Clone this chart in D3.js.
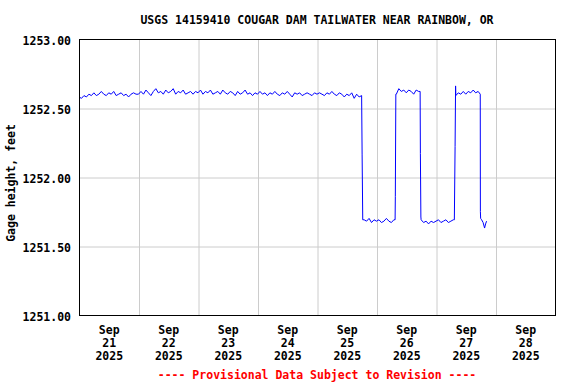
<!DOCTYPE html>
<html>
<head>
<meta charset="utf-8">
<script src="https://cdn.jsdelivr.net/npm/d3@7"></script>
<style>
html,body{margin:0;padding:0;background:#fff;}
svg{display:block;}
text{font-family:"DejaVu Sans Mono","Liberation Mono",monospace;font-weight:bold;}
</style>
</head>
<body>
<svg id="chart" width="576" height="384"></svg>
<script>
const title = "USGS 14159410 COUGAR DAM TAILWATER NEAR RAINBOW, OR";
const yLabel = "Gage height, feet";
const footer = "---- Provisional Data Subject to Revision ----";
const dayLabels = ["21","22","23","24","25","26","27","28"];
const monthLabel = "Sep";
const yearLabel = "2025";
const yTicks = [1251.0, 1251.5, 1252.0, 1252.5, 1253.0];
const yDomain = [1251, 1253];

// hourly readings starting Sep 21 2025 00:00 (hour offset = index)
const gageSep21 = [1252.58,1252.57,1252.59,1252.58,1252.60,1252.59,1252.61,1252.59,1252.60,1252.62,1252.60,1252.59,1252.61,1252.60,1252.62,1252.59,1252.60,1252.61,1252.59,1252.60,1252.58,1252.60,1252.61,1252.60];
const gageSep22 = [1252.60,1252.62,1252.60,1252.63,1252.61,1252.59,1252.62,1252.64,1252.61,1252.62,1252.60,1252.63,1252.61,1252.62,1252.64,1252.60,1252.62,1252.61,1252.63,1252.60,1252.61,1252.62,1252.60,1252.62];
const gageSep23 = [1252.61,1252.63,1252.60,1252.62,1252.61,1252.63,1252.60,1252.61,1252.62,1252.60,1252.63,1252.61,1252.60,1252.62,1252.61,1252.59,1252.62,1252.60,1252.61,1252.63,1252.60,1252.61,1252.59,1252.61];
const gageSep24 = [1252.60,1252.62,1252.60,1252.61,1252.59,1252.61,1252.60,1252.62,1252.60,1252.59,1252.61,1252.60,1252.62,1252.60,1252.58,1252.61,1252.60,1252.61,1252.59,1252.60,1252.61,1252.60,1252.59,1252.61];
const gageSep25 = [1252.60,1252.61,1252.60,1252.59,1252.61,1252.60,1252.62,1252.60,1252.59,1252.61,1252.60,1252.58,1252.60,1252.59,1252.61,1252.57,1252.60,1252.58,1252.59,1251.69,1251.68,1251.70,1251.67,1251.69];
const gageSep26 = [1251.68,1251.69,1251.67,1251.68,1251.70,1251.68,1251.67,1251.69,1252.60,1252.64,1252.62,1252.63,1252.61,1252.63,1252.62,1252.60,1252.63,1252.62,1251.69,1251.67,1251.68,1251.66,1251.68,1251.67];
const gageSep27 = [1251.68,1251.69,1251.67,1251.68,1251.69,1251.67,1251.68,1251.69,1252.59,1252.61,1252.60,1252.62,1252.60,1252.62,1252.61,1252.63,1252.61,1252.62,1251.70,1251.67,1251.66];
// extra readings around gate changes: [hour offset, value]
const transitionReadings = [
  [114.2,1252.16],[114.45,1251.69],
  [127.5,1251.69],[127.6,1251.86],[127.8,1252.60],
  [137.6,1252.62],[137.7,1252.17],[137.9,1251.71],
  [151.4,1251.69],[151.7,1252.22],[151.9,1252.66],
  [161.85,1252.60],[161.9,1251.75],[162.4,1251.69],[163.6,1251.63],[164.4,1251.68]
];

const start = new Date(2025, 8, 21, 0, 0, 0);
const end = new Date(2025, 8, 29, 0, 0, 0);
const hourly = [].concat(gageSep21, gageSep22, gageSep23, gageSep24, gageSep25, gageSep26, gageSep27);
const points = hourly.map((v, i) => [i, v]).concat(transitionReadings)
  .sort((a, b) => a[0] - b[0])
  .map(([h, v]) => ({t: new Date(start.getTime() + h * 3600e3), v}));

const L = 79, R = 555, T = 39, B = 315;
const svg = d3.select("#chart");
const x = d3.scaleTime().domain([start, end]).range([L, R]);
const y = d3.scaleLinear().domain(yDomain).range([B, T]);

// grid
const dayTicks = d3.timeDay.range(start, end).slice(1);
svg.append("g").attr("transform", `translate(0.5,${T})`)
  .call(d3.axisBottom(x).tickValues(dayTicks).tickSize(B - T).tickFormat(""))
  .call(g => g.select(".domain").remove())
  .call(g => g.selectAll("line").attr("stroke", "#cccccc"));
svg.append("g").attr("transform", `translate(${L},0.5)`)
  .call(d3.axisRight(y).tickValues(yTicks.slice(1, -1)).tickSize(R - L).tickFormat(""))
  .call(g => g.select(".domain").remove())
  .call(g => g.selectAll("line").attr("stroke", "#cccccc"));

// line
const line = d3.line().x(d => x(d.t)).y(d => y(d.v));
svg.append("path").datum(points)
  .attr("d", line).attr("fill", "none").attr("stroke", "#0000ff").attr("stroke-width", 1);

// frame
svg.append("rect").attr("x", L + 0.5).attr("y", T + 0.5)
  .attr("width", R - L).attr("height", B - T)
  .attr("fill", "none").attr("stroke", "#000").attr("stroke-width", 1);

// y axis labels
svg.append("g").attr("transform", `translate(${L - 8},0)`)
  .call(d3.axisLeft(y).tickValues(yTicks).tickSize(0).tickPadding(0).tickFormat(d3.format(".2f")))
  .call(g => g.select(".domain").remove())
  .call(g => g.selectAll("text")
    .attr("font-family", "DejaVu Sans Mono, monospace").attr("font-weight", "bold")
    .attr("font-size", 11.5).attr("fill", "#000").attr("dy", "0.5em"));

// x axis labels (noon of each day)
const noonTicks = d3.timeDay.range(start, end).map(d => d3.timeHour.offset(d, 12));
const xa = svg.append("g").attr("transform", `translate(0,${B})`)
  .call(d3.axisBottom(x).tickValues(noonTicks).tickSize(0).tickPadding(0).tickFormat(""))
  .call(g => g.select(".domain").remove());
xa.selectAll(".tick text").each(function(d, i) {
  const t = d3.select(this).attr("y", 0).attr("dy", null)
    .attr("font-family", "DejaVu Sans Mono, monospace").attr("font-weight", "bold")
    .attr("font-size", 11.5).attr("fill", "#000");
  t.text(null);
  [monthLabel, dayLabels[i], yearLabel].forEach((s, k) => {
    t.append("tspan").attr("x", 0).attr("y", 18.5 + k * 13.3).text(s);
  });
});

// title
svg.append("text").attr("x", (L + R) / 2).attr("y", 24).attr("text-anchor", "middle")
  .attr("font-size", 11.5).attr("fill", "#000").text(title);

// y label
svg.append("text").attr("transform", `translate(15,183) rotate(-90)`)
  .attr("text-anchor", "middle").attr("font-size", 11.5).attr("fill", "#000").text(yLabel);

// footer
svg.append("text").attr("x", (L + R) / 2).attr("y", 378.5).attr("text-anchor", "middle")
  .attr("font-size", 11.5).attr("fill", "#ff0000").text(footer);
</script>
</body>
</html>
